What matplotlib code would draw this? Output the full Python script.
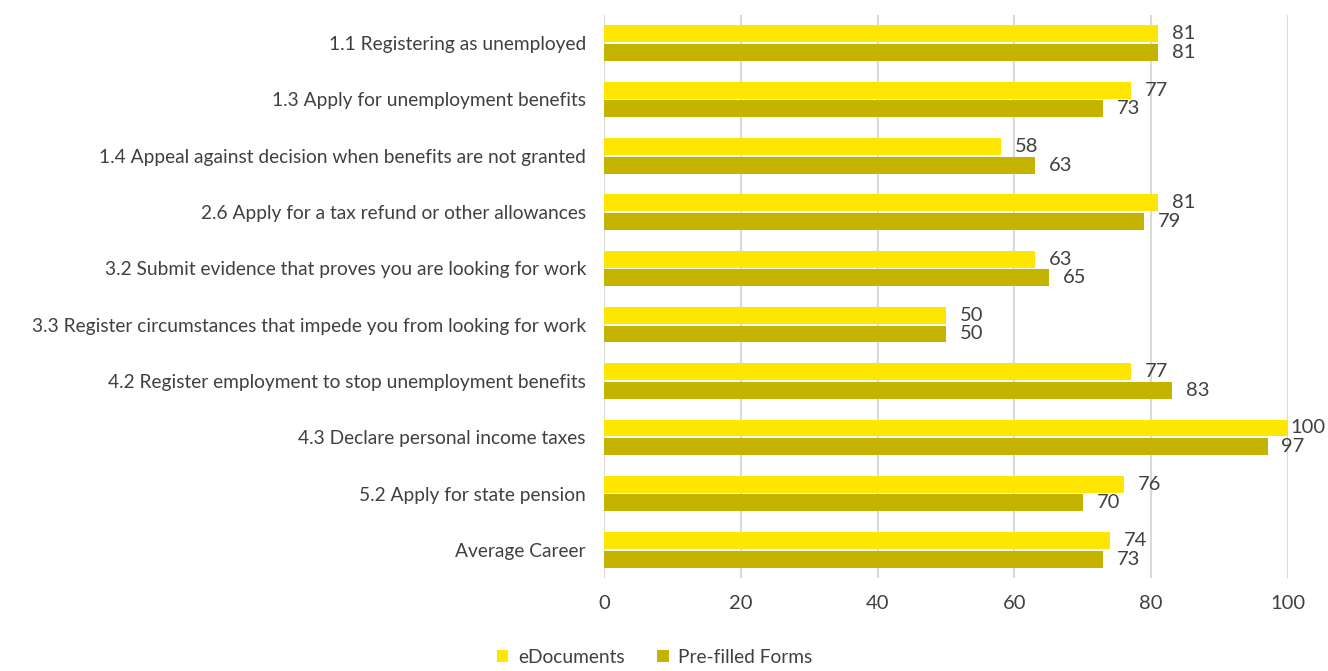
import matplotlib.pyplot as plt
import numpy as np

plt.rcParams['font.family'] = ['Lato', 'DejaVu Sans']

categories = [
    "1.1 Registering as unemployed",
    "1.3 Apply for unemployment benefits",
    "1.4 Appeal against decision when benefits are not granted",
    "2.6 Apply for a tax refund or other allowances",
    "3.2 Submit evidence that proves you are looking for work",
    "3.3 Register circumstances that impede you from looking for work",
    "4.2 Register employment to stop unemployment benefits",
    "4.3 Declare personal income taxes",
    "5.2 Apply for state pension",
    "Average Career",
]
edocuments = [81, 77, 58, 81, 63, 50, 77, 100, 76, 74]
prefilled = [81, 73, 63, 79, 65, 50, 83, 97, 70, 73]
xticks = [0, 20, 40, 60, 80, 100]

c_edoc = "#FFE600"
c_pref = "#C4B300"
text_c = "#404040"

fig = plt.figure(figsize=(13.28, 6.71), dpi=100)
ax = fig.add_axes([0.4548, 0.1386, 0.5151, 0.839])

y = np.arange(len(categories))
h = 0.3
gap = 0.03
b1 = ax.barh(y - h / 2 - gap / 2, edocuments, height=h, color=c_edoc, label="eDocuments", zorder=3)
b2 = ax.barh(y + h / 2 + gap / 2, prefilled, height=h, color=c_pref, label="Pre-filled Forms", zorder=3)

for bars, vals in ((b1, edocuments), (b2, prefilled)):
    for rect, v in zip(bars, vals):
        # labels at the right edge are pulled in so they stay on the canvas
        off = 2 if v >= 100 else 10
        ax.annotate(f"{v}", (rect.get_width(), rect.get_y() + rect.get_height() / 2),
                    xytext=(off, 0), textcoords="offset points", va="center", ha="left",
                    fontsize=14.5, color=text_c)

ax.set_xlim(0, 100)
ax.set_ylim(len(categories) - 0.5, -0.5)
ax.set_yticks(y)
ax.set_yticklabels(categories, fontsize=13.8, color=text_c)
ax.set_xticks(xticks)
ax.set_xticklabels([str(t) for t in xticks], fontsize=14.5, color=text_c)
ax.tick_params(axis="both", length=0)
ax.tick_params(axis="x", pad=12)
ax.tick_params(axis="y", pad=13)
for s in ax.spines.values():
    s.set_visible(False)
ax.xaxis.grid(True, color="#D9D9D9", linewidth=1.5, zorder=0)
ax.set_axisbelow(True)

leg = fig.legend(handles=[b1, b2], loc="lower center", bbox_to_anchor=(0.493, -0.018), ncol=2,
                 frameon=False, fontsize=13.8, handlelength=0.6, handleheight=0.6,
                 columnspacing=1.7, handletextpad=0.5)
for t in leg.get_texts():
    t.set_color(text_c)

fig.savefig("out.png", dpi=100)
